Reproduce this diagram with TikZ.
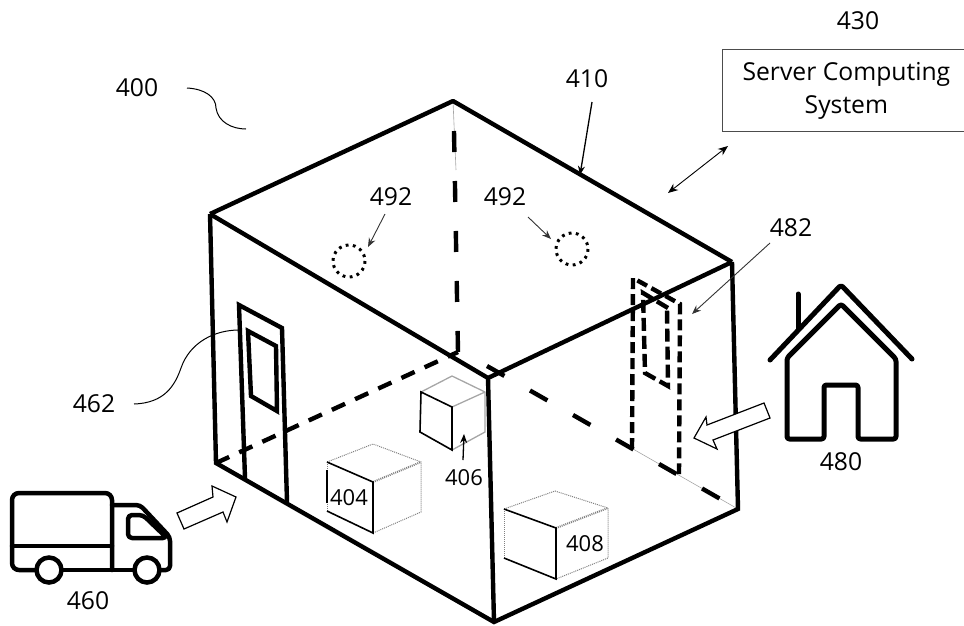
\documentclass[tikz,border=0pt]{standalone}
\usepackage{fontspec}
\setmainfont{Open Sans}
\usetikzlibrary{arrows.meta}

\begin{document}
\begin{tikzpicture}[
  x=1pt,y=-1pt,
  wall/.style={draw=black,line width=4.4pt,line join=miter},
  hidden/.style={draw=black,line width=4.4pt},
  faint/.style={draw=black!35,line width=0.6pt},
  icon/.style={draw=black,line width=4.5pt,rounded corners=2.5pt,line join=round,line cap=round},
  flow/.style={draw=black,line width=1.2pt,fill=white,line join=miter},
  boxedge/.style={draw=black,line width=1.6pt},
  boxdots/.style={draw=black!50,line width=1pt,dash pattern=on 1pt off 1pt},
  lbl/.style={font=\fontsize{24.7}{30}\selectfont,inner sep=0pt},
  lblsmall/.style={font=\fontsize{22}{26}\selectfont,inner sep=0pt},
  arr/.style={-{Stealth[length=9pt,width=7pt]},line width=1.3pt,draw=black},
  thinarr/.style={-{Stealth[length=9pt,width=7pt]},line width=0.9pt,draw=black!80},
  marker/.style={draw=black,line width=3pt,dash pattern=on 2.8pt off 4.4pt}]

  \useasboundingbox (0,0) rectangle (964,625);

  \coordinate (roofback) at (453,101);
  \coordinate (roofleft) at (210,214);
  \coordinate (roofright) at (732,262);
  \coordinate (rooffront) at (488,378);
  \coordinate (floorleft) at (216,463);
  \coordinate (floorfront) at (494,622);
  \coordinate (floorright) at (738,509);
  \coordinate (floorback) at (458,352);

  % hidden edges
  \draw[faint] (roofback) -- (456,170);
  \draw[hidden,dash pattern=on 21pt off 29pt] (454,131) -- (floorback);
  \draw[hidden,dash pattern=on 14.5pt off 11pt] (floorleft) -- (floorback);
  \draw[faint] (633,449) -- (floorright);
  \draw[hidden,dash pattern=on 20pt off 29.5pt] (487,366) -- (floorright);

  % walls
  \draw[wall,line join=bevel] (roofleft) -- (roofback) -- (roofright);
  \draw[wall] (roofleft) -- (rooffront) -- (roofright);
  \draw[wall] (roofleft) -- (floorleft) -- (floorfront) -- (floorright) -- (roofright);
  \draw[wall] (rooffront) -- (floorfront);

  % door
  \draw[wall] (245,478) -- (239,305) -- (282,328) -- (287,502);
  \draw[wall] (248,331) -- (276,346) -- (277,411) -- (251,396) -- cycle;

  % rear door
  \draw[hidden,dash pattern=on 11pt off 5pt]
    (632,449) -- (633,278) -- (680,304) -- (679,474);
  \draw[hidden,dash pattern=on 13pt off 5pt]
    (668,308) -- (643,293) -- (645,373) -- (668,386) -- (667,308);

  % parcels
  \draw[boxdots] (327,462) -- (373,444) -- (421,462) -- (421,512) -- (373,533);
  \draw[boxdots,line width=2pt] (373,482) -- (421,462);
  \draw[boxdots] (327,462) -- (327,511);
  \draw[boxedge] (327,462) -- (373,482) -- (373,533) -- (327,511);
  \draw[boxedge] (327,470) -- (327,503);

  \draw[draw=black!35,line width=1.3pt] (421,392) -- (452,376) -- (485,392) -- (485,432) -- (452,450);
  \draw[draw=black!35,line width=1.3pt] (452,407) -- (485,392);
  \draw[boxedge] (421,392) -- (452,407) -- (452,450) -- (420,432) -- cycle;

  \draw[boxdots] (504,509) -- (555,491) -- (608,508) -- (608,558) -- (556,579);
  \draw[boxdots,line width=2pt] (556,528) -- (608,508);
  \draw[boxdots] (504,509) -- (504,558);
  \draw[boxedge] (504,509) -- (556,528) -- (556,579) -- (504,558);

  % ceiling sensors
  \draw[marker] (349,261) circle (16);
  \draw[marker] (572,249) circle (16);

  % truck
  \draw[icon,rounded corners=7pt] (36,570) -- (12,570) -- (12,493) -- (112,493) -- (112,570);
  \draw[icon] (12,546) -- (112,546);
  \draw[icon] (112,570) -- (62,570);
  \draw[icon,rounded corners=4pt] (112,505) -- (140,505) -- (170,537) -- (170,570) -- (160,570);
  \draw[icon] (112,570) -- (134,570);
  \draw[icon,rounded corners=4pt] (128,515) -- (143,515) -- (167,538) -- (128,538) -- cycle;
  \node[draw=black,line width=4.5pt,circle,minimum size=25pt,inner sep=0pt] (wheelrear) at (49,570) {};
  \node[draw=black,line width=4.5pt,circle,minimum size=25pt,inner sep=0pt] (wheelfront) at (147,570) {};

  % house
  \draw[icon,line width=5pt] (770,360) -- (841,285) -- (912,359);
  \draw[icon,line width=5pt] (798,294) -- (798,328);
  \draw[icon,line width=5pt] (787,358) -- (841,304) -- (896,359) -- (896,439) -- (858,439)
    -- (858,385) -- (824,385) -- (824,439) -- (787,439) -- cycle;

  % block arrows
  \draw[flow] (177,513) -- (213,497) -- (212,486) -- (236,497) -- (227,522) -- (223,512) -- (184,529) -- cycle;
  \draw[flow] (694,438) -- (706,417) -- (707,425) -- (764,403) -- (770,418) -- (713,440) -- (717,449) -- cycle;

  % server
  \node[draw=black!70,line width=0.8pt,minimum width=248pt,minimum height=82pt,inner sep=0pt,
        align=center,lbl,anchor=north west] (server) at (722,49)
       {Server Computing\\[3pt]System};

  % labels
  \node[lbl] (ref400) at (137,88) {400};
  \node[lbl] (ref410) at (587,79) {410};
  \node[lbl] (ref430) at (858,21) {430};
  \node[lbl] (ref492a) at (391,197) {492};
  \node[lbl] (ref492b) at (505,197) {492};
  \node[lbl] (ref482) at (791,228) {482};
  \node[lbl] (ref462) at (94,404) {462};
  \node[lbl] (ref460) at (88,601) {460};
  \node[lbl] (ref480) at (841,462) {480};
  \node[lblsmall] (ref404) at (349,498) {404};
  \node[lblsmall] (ref406) at (464,478) {406};
  \node[lblsmall] (ref408) at (585,544) {408};

  % leaders
  \coordinate (tip410) at (580,175);
  \coordinate (tip492a) at (368,247);
  \coordinate (tip492b) at (551,239);
  \coordinate (tip482) at (692,314);
  \coordinate (tip406) at (464,434);
  \draw[arr] (592,102) -- (tip410);
  \draw[thinarr] (385,214) -- (tip492a);
  \draw[thinarr] (528,217) -- (tip492b);
  \draw[thinarr] (770,243) -- (tip482);
  \draw[arr] (463,460) -- (tip406);
  \draw[{Stealth[length=10pt,width=8pt]}-{Stealth[length=10pt,width=8pt]},line width=0.9pt]
    (668,193) -- (728,146);

  \draw[line width=1pt] (187,88) .. controls (205,89) and (216,97) .. (216,108)
    .. controls (218,122) and (232,129) .. (246,129);
  \draw[line width=1pt] (134,404) .. controls (165,403) and (175,385) .. (181,368)
    .. controls (190,342) and (215,330) .. (239,330);
\end{tikzpicture}
\end{document}
